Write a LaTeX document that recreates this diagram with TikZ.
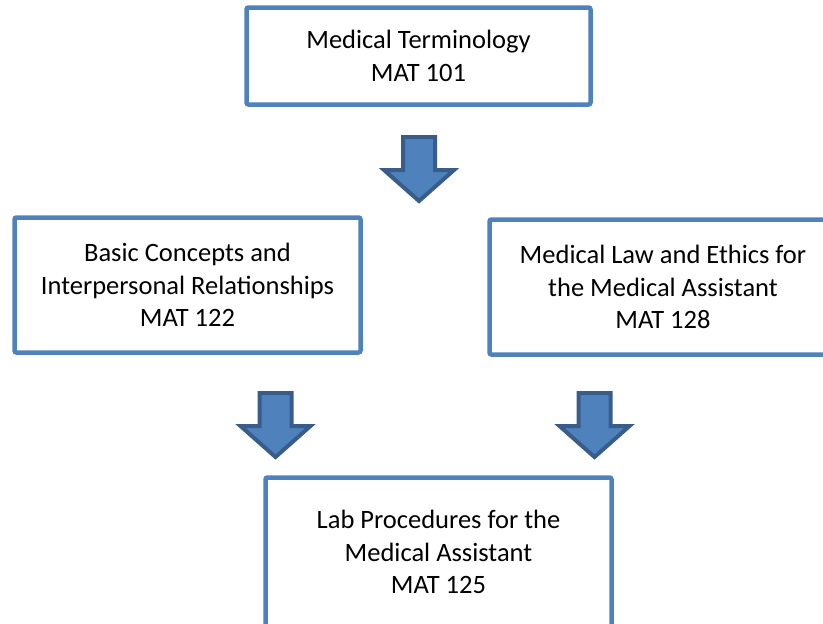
\documentclass[tikz,border=0pt]{standalone}
\usepackage{fontspec}
\setmainfont{Carlito}
\definecolor{boxblue}{HTML}{4F81BD}
\definecolor{arrowedge}{HTML}{385D8A}
\tikzset{
  coursebox/.style={draw=boxblue, line width=4.5pt, rounded corners=2pt, fill=white,
    align=center, inner sep=0pt, font=\fontsize{26.5}{32.5}\selectfont},
  blockarrow/.pic={
    \draw[fill=boxblue, draw=arrowedge, line width=4pt, line join=miter]
      (-16,0) -- (16,0) -- (16,33) -- (35,33) -- (0,64) -- (-35,33) -- (-16,33) -- cycle;
  }
}
\begin{document}
\begin{tikzpicture}[x=1pt,y=-1pt]
\useasboundingbox (0,0) rectangle (823,624);
\begin{scope}
\clip (0,0) rectangle (823,624);
% boxes (stroke centres measured from the reference)
\node[coursebox, minimum width=344pt, minimum height=97pt] (mt) at (418.5,56)
  {Medical Terminology\\MAT 101};
\node[coursebox, minimum width=346pt, minimum height=135pt] (bc) at (187.5,285)
  {Basic Concepts and\\Interpersonal Relationships\\MAT 122};
\node[coursebox, minimum width=347pt, minimum height=135pt] (ml) at (663,287)
  {Medical Law and Ethics for\\the Medical Assistant\\MAT 128};
\node[coursebox, minimum width=346pt, minimum height=149pt] (lp) at (438.5,552)
  {Lab Procedures for the\\Medical Assistant\\MAT 125};
% block arrows
\coordinate (a1) at (419,137);
\coordinate (a2) at (275.5,393);
\coordinate (a3) at (594.5,393);
\pic at (a1) {blockarrow};
\pic at (a2) {blockarrow};
\pic at (a3) {blockarrow};
\end{scope}
\end{tikzpicture}
\end{document}
